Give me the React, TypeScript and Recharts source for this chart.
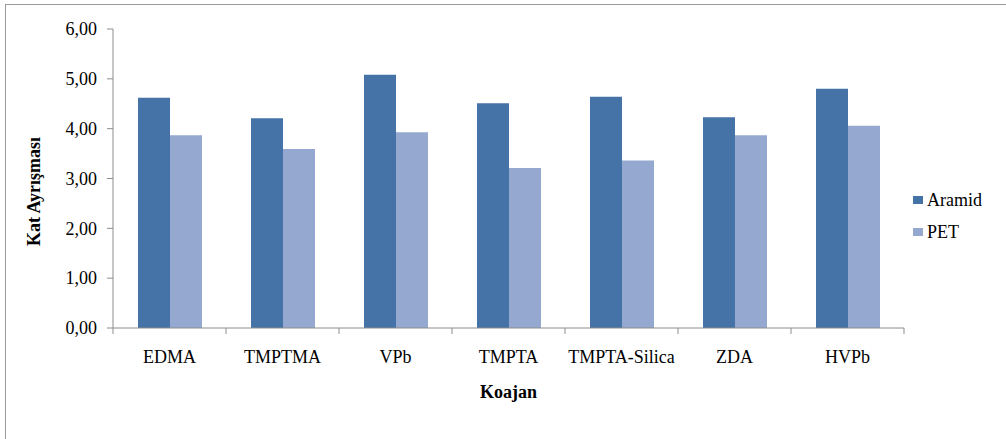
import { BarChart, Bar, XAxis, YAxis, Legend } from 'recharts';

const categories = ['EDMA', 'TMPTMA', 'VPb', 'TMPTA', 'TMPTA-Silica', 'ZDA', 'HVPb'];
const aramid = [4.62, 4.21, 5.08, 4.51, 4.64, 4.23, 4.8];
const pet = [3.87, 3.59, 3.93, 3.21, 3.36, 3.87, 4.06];
const yTicks = [0, 1, 2, 3, 4, 5, 6];

const seriesNames = { aramid: 'Aramid', pet: 'PET' };
const colors = { aramid: '#4572A7', pet: '#95A9D0' };

const FONT = "'Liberation Serif', 'Times New Roman', serif";
const AXIS_COLOR = '#8c8c8c';

const data = categories.map((name, i) => ({
  name,
  aramid: aramid[i],
  pet: pet[i],
}));

const fmt = (v: number) => v.toFixed(2).replace('.', ',');

// category ticks sit between bars, so draw the line at the band edge
function XTick(props: any) {
  const { x, y, payload, index, visibleTicksCount } = props;
  const half = payload.offset || 0;
  const axisY = y - 6;
  return (
    <g>
      <line x1={x - half} x2={x - half} y1={axisY} y2={axisY + 6} stroke={AXIS_COLOR} />
      {index === visibleTicksCount - 1 && (
        <line x1={x + half} x2={x + half} y1={axisY} y2={axisY + 6} stroke={AXIS_COLOR} />
      )}
      <text x={x} y={axisY + 35} textAnchor="middle" fontSize={18} style={{ fontFamily: FONT }} fill="#000">
        {payload.value}
      </text>
    </g>
  );
}

function YTick(props: any) {
  const { x, y, payload } = props;
  return (
    <text x={x} y={y} dy="0.35em" textAnchor="end" fontSize={18} style={{ fontFamily: FONT }} fill="#000">
      {fmt(payload.value)}
    </text>
  );
}

function YLabel(props: any) {
  const { viewBox } = props;
  const cx = viewBox.x - 13;
  const cy = viewBox.y + viewBox.height / 2 + 13;
  return (
    <text
      x={cx}
      y={cy}
      transform={`rotate(-90, ${cx}, ${cy})`}
      textAnchor="middle"
      fontSize={18}
      fontWeight="bold"
      style={{ fontFamily: FONT }}
      fill="#000"
    >
      Kat Ayrışması
    </text>
  );
}

function LegendBox(props: any) {
  const { payload } = props;
  return (
    <div style={{ fontFamily: FONT, fontSize: 18, color: '#000' }}>
      {payload.map((p: any) => (
        <div key={p.value} style={{ display: 'flex', alignItems: 'center', height: 32 }}>
          <span style={{ width: 10, height: 8, background: p.color, display: 'inline-block', marginRight: 4 }} />
          <span>{p.value}</span>
        </div>
      ))}
    </div>
  );
}

export default function App() {
  return (
    <div style={{ position: 'absolute', left: 0, top: 0, width: 1006, height: 439, background: '#fff', overflow: 'hidden', fontFamily: FONT }}>
      <div
        style={{
          position: 'absolute',
          left: 5,
          top: 4,
          width: 1010,
          height: 450,
          borderTop: '1px solid #9a9a9a',
          borderLeft: '1px solid #9a9a9a',
        }}
      />
      <div style={{ position: 'absolute', left: 0, top: 0 }}>
        <BarChart
          width={1006}
          height={439}
          data={data}
          margin={{ top: 29, right: 102, bottom: 31, left: 53 }}
          barSize={32}
          barGap={0}
          style={{ fontFamily: FONT }}
        >
          <XAxis
            dataKey="name"
            height={80}
            axisLine={{ stroke: AXIS_COLOR }}
            tickLine={false}
            tickSize={6}
            tickMargin={0}
            interval={0}
            tick={<XTick />}
            label={{ value: 'Koajan', position: 'insideBottom', offset: 10, fontSize: 18, fontWeight: 'bold', fill: '#000' }}
          />
          <YAxis
            width={60}
            domain={[0, 6]}
            ticks={yTicks}
            axisLine={{ stroke: AXIS_COLOR }}
            tickLine={{ stroke: AXIS_COLOR }}
            tickSize={6}
            tickMargin={10}
            tick={<YTick />}
            label={<YLabel />}
          />
          <Legend
            layout="horizontal"
            verticalAlign="middle"
            align="center"
            content={<LegendBox />}
            wrapperStyle={{ left: 913, top: 184, width: 90 }}
          />
          <Bar dataKey="aramid" name={seriesNames.aramid} fill={colors.aramid} isAnimationActive={false} />
          <Bar dataKey="pet" name={seriesNames.pet} fill={colors.pet} isAnimationActive={false} />
        </BarChart>
      </div>
    </div>
  );
}
